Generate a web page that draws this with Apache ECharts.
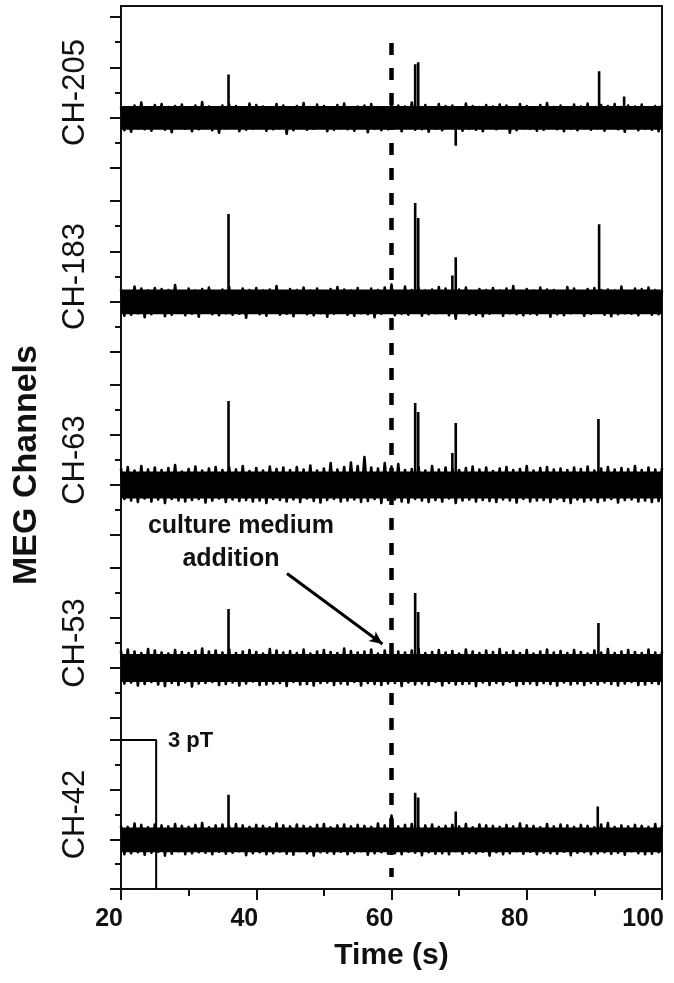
<!DOCTYPE html>
<html><head><meta charset="utf-8">
<script src="https://cdn.jsdelivr.net/npm/echarts@6/dist/echarts.min.js"></script>
<style>html,body{margin:0;padding:0;background:#fff}#c{width:674px;height:983px}</style>
</head><body><div id="c"></div>
<script>
// ---- data ----
const channels = ['CH-205', 'CH-183', 'CH-63', 'CH-53', 'CH-42'];
const xTicks = [20, 40, 60, 80, 100];
const tStart = 20, tStep = 0.5; // noise sampling grid (s)
// dense noise core of each trace (pT): lower and upper edge
const coreLo = [-0.24, -0.25, -0.27, -0.28, -0.26];
const coreHi = [0.23, 0.24, 0.27, 0.28, 0.24];
// baseline noise excursions per channel, in 0.01 pT, sampled every 0.5 s from 20 s to 100 s
const noise205 = [
 22,-25,19,-28,24,-21,30,-23,18,-26,25,-20,27,-24,21,-29,23,-19,26,-22,
 20,-27,24,-23,31,-18,22,-25,19,-30,24,-21,26,-20,23,-27,18,-24,28,-22,
 25,-19,22,-26,20,-23,27,-21,24,-32,19,-25,23,-20,29,-24,21,-22,26,-18,
 23,-27,20,-24,25,-21,28,-23,19,-26,22,-20,24,-29,27,-22,21,-25,18,-23,
 30,-20,24,-27,22,-19,30,-24,21,-23,25,-28,20,-22,27,-25,23,-18,24,-21,
 19,-26,28,-22,23,-24,21,-27,25,-20,22,-23,26,-19,24,-30,20,-25,27,-21,
 23,-22,18,-26,25,-24,29,-20,21,-23,24,-27,19,-22,26,-25,22,-18,28,-24,
 20,-21,25,-26,23,-19,27,-23,21,-28,24,-20,22,-25,26,-22,19,-24,23,-27,
 25];
const noise183 = [
 24,-28,21,-26,30,-23,26,-31,22,-25,27,-20,25,-29,23,-26,33,-22,20,-27,
 26,-24,22,-30,25,-21,28,-25,19,-27,24,-23,29,-26,21,-24,26,-32,23,-20,
 27,-25,22,-28,24,-22,31,-26,20,-24,25,-29,23,-21,28,-25,22,-27,26,-23,
 21,-30,25,-24,29,-20,24,-26,22,-28,27,-23,20,-25,26,-31,23,-24,28,-22,
 34,-27,21,-24,30,-26,23,-21,27,-28,22,-25,24,-23,29,-20,26,-27,21,-34,
 24,-22,28,-25,20,-26,25,-29,23,-24,27,-21,22,-28,26,-23,31,-25,21,-27,
 25,-24,22,-26,28,-20,24,-30,23,-25,21,-27,29,-23,26,-22,20,-28,25,-24,
 27,-21,23,-26,24,-29,22,-25,30,-23,21,-24,26,-27,25,-22,28,-26,23,-25,
 22];
const noise63 = [
 33,-28,36,-31,29,-34,38,-27,31,-33,35,-29,30,-36,34,-28,40,-31,27,-33,
 32,-30,37,-28,29,-35,33,-31,36,-27,30,-34,35,-29,31,-32,38,-30,28,-33,
 34,-31,29,-36,37,-28,32,-30,35,-33,30,-29,36,-34,31,-27,39,-32,29,-35,
 33,-30,44,-28,31,-33,36,-31,45,-29,38,-34,56,-32,35,-28,33,-36,44,-30,
 37,-29,42,-33,30,-35,32,-28,36,-31,29,-34,38,-30,31,-33,35,-27,32,-36,
 30,-31,34,-29,37,-33,31,-30,35,-32,28,-34,33,-29,36,-31,30,-35,32,-28,
 38,-33,29,-31,34,-30,36,-34,31,-28,33,-32,30,-36,35,-29,32,-33,37,-30,
 29,-34,33,-31,36,-28,31,-35,34,-30,32,-29,38,-33,30,-31,35,-34,31,-32,
 34];
const noise53 = [
 34,-31,37,-29,33,-35,30,-32,38,-28,35,-33,31,-36,29,-30,36,-34,32,-29,
 30,-37,34,-31,39,-30,33,-28,35,-34,31,-32,37,-29,30,-35,33,-31,36,-27,
 32,-34,29,-33,38,-31,35,-30,31,-36,34,-28,30,-33,37,-32,29,-35,33,-30,
 36,-29,32,-34,30,-31,39,-33,34,-28,31,-35,33,-30,37,-32,29,-34,35,-31,
 42,-30,33,-36,31,-29,35,-33,38,-31,30,-34,32,-28,36,-35,31,-30,34,-33,
 29,-32,37,-31,33,-36,30,-29,35,-34,32,-30,38,-33,31,-28,34,-35,30,-32,
 36,-31,29,-34,33,-30,37,-32,31,-35,34,-29,30,-33,36,-31,32,-34,29,-30,
 35,-33,31,-29,38,-32,30,-35,33,-31,36,-28,32,-34,30,-33,37,-30,31,-32,
 33];
const noise42 = [
 27,-30,25,-28,32,-26,29,-31,24,-27,30,-25,28,-33,26,-29,31,-24,27,-30,
 25,-28,29,-26,33,-27,24,-30,28,-25,30,-29,26,-27,31,-24,28,-32,25,-28,
 29,-26,27,-30,24,-28,32,-25,28,-29,26,-31,30,-24,27,-28,25,-33,29,-26,
 31,-27,24,-29,28,-25,30,-30,26,-27,29,-24,27,-31,25,-28,32,-26,28,-29,
 48,-28,26,-30,29,-25,31,-27,24,-32,28,-26,30,-29,25,-28,27,-30,29,-24,
 26,-29,31,-27,24,-28,30,-25,28,-33,27,-26,25,-30,29,-28,26,-24,32,-29,
 28,-25,27,-30,24,-27,31,-28,26,-29,30,-25,28,-32,25,-27,29,-26,27,-30,
 24,-28,30,-26,33,-29,25,-27,28,-31,26,-24,29,-28,27,-30,25,-29,31,-26,
 28];
// spikes: times (s) and amplitudes (pT)
const spikeT205 = [35.9, 63.5, 63.95, 69.5, 90.7, 94.4];
const spikeA205 = [0.86, 1.06, 1.10, -0.56, 0.92, 0.42];
const spikeT183 = [35.9, 63.5, 63.95, 69.0, 69.5, 90.7];
const spikeA183 = [1.74, 1.96, 1.66, 0.52, 0.88, 1.54];
const spikeT63 = [35.9, 63.5, 63.95, 69.0, 69.5, 90.6];
const spikeA63 = [1.68, 1.64, 1.46, 0.64, 1.24, 1.32];
const spikeT53 = [35.9, 63.5, 63.95, 90.6];
const spikeA53 = [1.18, 1.50, 1.12, 0.90];
const spikeT42 = [35.9, 63.5, 63.95, 69.5, 90.5];
const spikeA42 = [0.90, 0.94, 0.84, 0.56, 0.66];
const additionTime = 60;       // culture medium addition (s)
const scaleBarT = 25.2;        // 3 pT scale bar x position (s)
const scaleBar = [2, -1];      // scale bar top/bottom (pT) -> 3 pT
const arrowFrom = [44.55, 1.89], arrowTo = [58.67, 0.48];

// ---- chart ----
const noises = [noise205, noise183, noise63, noise53, noise42];
const spikeTs = [spikeT205, spikeT183, spikeT63, spikeT53, spikeT42];
const spikeAs = [spikeA205, spikeA183, spikeA63, spikeA53, spikeA42];
const panelTop = [17, 201, 385, 568, 740];
const panelH = [151, 151, 150, 150, 149];
const FONT = "'Liberation Sans', Arial, sans-serif";
const INK = '#111';
const L = 121, R = 12;

const grids = [], xAxes = [], yAxes = [], series = [];
channels.forEach((name, i) => {
  grids.push({left: L, right: R, top: panelTop[i], height: panelH[i], containLabel: false, outerBoundsMode: 'none'});
  const bottom = i === channels.length - 1;
  xAxes.push({
    type: 'value', gridIndex: i, min: 20, max: 100, interval: 20,
    show: bottom,
    axisLine: {show: true, onZero: false, lineStyle: {color: INK, width: 2}},
    axisTick: {show: true, inside: false, length: 11, lineStyle: {color: INK, width: 2}},
    minorTick: {show: true, splitNumber: 2, length: 7, lineStyle: {color: INK, width: 2}},
    axisLabel: {show: bottom, margin: 18, color: INK, fontFamily: FONT, fontWeight: 'bold', fontSize: 25,
      align: 'right', padding: [0, -2, 0, 0],
      formatter: v => xTicks.includes(v) ? String(v) : ''},
    splitLine: {show: false},
    name: bottom ? 'Time (s)' : '', nameLocation: 'middle', nameGap: 52,
    nameTextStyle: {color: INK, fontFamily: FONT, fontWeight: 'bold', fontSize: 30}
  });
  yAxes.push({
    type: 'value', gridIndex: i, min: -1, max: 2, interval: 1,
    axisLine: {show: true, lineStyle: {color: INK, width: 2}},
    axisTick: {show: true, inside: false, length: 11, lineStyle: {color: INK, width: 2}},
    minorTick: {show: true, splitNumber: 2, length: 6, lineStyle: {color: INK, width: 2}},
    axisLabel: {show: false}, splitLine: {show: false},
    name: name, nameLocation: 'middle', nameRotate: 90, nameGap: 30,
    nameTextStyle: {color: INK, fontFamily: FONT, fontSize: 31}
  });
  series.push({
    type: 'line', xAxisIndex: i, yAxisIndex: i, symbol: 'none', silent: true,
    lineStyle: {color: '#000', width: 2.6, join: 'round'},
    markArea: {silent: true, itemStyle: {color: '#000'},
      data: [[{coord: [20, coreLo[i]]}, {coord: [100, coreHi[i]]}]]},
    data: noises[i].map((v, j) => [tStart + tStep * j, v / 100])
  });
  const sp = [];
  spikeTs[i].forEach((t, k) => { sp.push([t, 0], [t, spikeAs[i][k]], [t, 0]); });
  const s = {
    type: 'line', xAxisIndex: i, yAxisIndex: i, symbol: 'none', silent: true,
    lineStyle: {color: '#000', width: 2.6}, data: sp
  };
  if (name === 'CH-53') {
    s.markLine = {
      silent: true, symbol: ['none', 'arrow'], symbolSize: [9, 13],
      lineStyle: {color: '#000', width: 3, type: 'solid'}, label: {show: false},
      data: [[{coord: arrowFrom}, {coord: arrowTo}]]
    };
  }
  series.push(s);
});
// scale bar in CH-42 panel
series.push({
  type: 'line', xAxisIndex: 4, yAxisIndex: 4, symbol: 'none', silent: true,
  lineStyle: {color: '#000', width: 2},
  data: [[20, scaleBar[0]], [scaleBarT, scaleBar[0]], [scaleBarT, scaleBar[1]]]
});
// frame grid
grids.push({left: L, right: R, top: 6, bottom: 94, show: true, borderColor: INK, borderWidth: 2,
  containLabel: false, outerBoundsMode: 'none'});
xAxes.push({type: 'value', gridIndex: 5, min: 20, max: 100, show: false});
yAxes.push({type: 'value', gridIndex: 5, min: 0, max: 1, show: false});
series.push({
  type: 'line', xAxisIndex: 5, yAxisIndex: 5, symbol: 'none', silent: true, z: 5,
  lineStyle: {color: '#000', width: 4.5, type: [12, 13]},
  data: [[additionTime, 0.958], [additionTime, 0.0136]]
});

const chart = echarts.init(document.getElementById('c'), null, {renderer: 'canvas'});
chart.setOption({
  animation: false,
  backgroundColor: '#fff',
  grid: grids, xAxis: xAxes, yAxis: yAxes, series: series,
  graphic: [
    {type: 'text', x: 27, y: 465, rotation: Math.PI / 2,
      style: {text: 'MEG Channels', fill: INK, font: "bold 34px " + FONT, textAlign: 'center', textVerticalAlign: 'middle'}},
    {type: 'text', x: 241, y: 526,
      style: {text: 'culture medium', fill: INK, font: "bold 25px " + FONT, textAlign: 'center', textVerticalAlign: 'middle'}},
    {type: 'text', x: 231, y: 559,
      style: {text: 'addition', fill: INK, font: "bold 25px " + FONT, textAlign: 'center', textVerticalAlign: 'middle'}},
    {type: 'text', x: 168, y: 741,
      style: {text: '3 pT', fill: INK, font: "bold 22px " + FONT, textAlign: 'left', textVerticalAlign: 'middle'}}
  ]
});
</script>
</body></html>
